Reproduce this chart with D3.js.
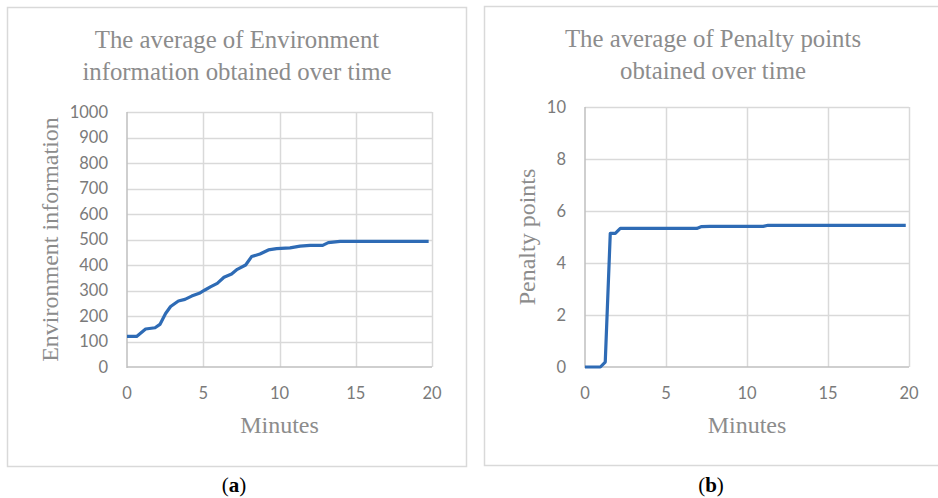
<!DOCTYPE html>
<html>
<head>
<meta charset="utf-8">
<script src="https://cdn.jsdelivr.net/npm/d3@7"></script>
<style>
  html, body { margin: 0; padding: 0; background: #fff; }
  svg { display: block; }
</style>
</head>
<body>
<div id="wrapper"></div>
<script>
// (a) environment information, vertices
const envMinutes = [0, 0.63, 1.22, 1.84, 2.16, 2.53, 2.86, 3.37, 3.8, 4.24, 4.74, 5.11, 5.5, 5.92,
  6.36, 6.86, 7.23, 7.78, 8.17, 8.72, 9.27, 9.81, 10.69, 11.35, 12.0, 12.83, 13.2, 13.97, 14.84, 19.78];
const envValues = [120, 120, 149, 154, 167, 210, 237, 259, 265, 278, 289, 302, 315, 328,
  352, 365, 383, 400, 433, 443, 459, 464, 467, 474, 477, 477, 488, 493, 493, 493];

// (b) penalty points
const penMinutes = [0, 0.95, 1.25, 1.56, 1.87, 2.18, 6.9, 7.2, 7.7, 11.0, 11.3, 19.8];
const penValues = [0, 0, 0.19, 5.14, 5.14, 5.33, 5.33, 5.4, 5.41, 5.41, 5.45, 5.45];

const xTicks = [0, 5, 10, 15, 20];
const envTicks = d3.range(0, 1001, 100);
const penTicks = [0, 2, 4, 6, 8, 10];

const width = 938;
const height = 498;
const lineColour = '#2e6bb5';
const serif = '"Liberation Serif", "Times New Roman", serif';
const sans = 'Lato, "Open Sans", sans-serif';

const svg = d3.select('#wrapper').append('svg')
  .attr('width', width)
  .attr('height', height);

const drawPanel = (p) => {
  const g = svg.append('g');

  // panel frame
  g.append('rect')
    .attr('x', p.box[0] + 0.5).attr('y', p.box[1] + 0.5)
    .attr('width', p.box[2]).attr('height', p.box[3])
    .attr('fill', 'none').attr('stroke', '#d9d9d9').attr('stroke-width', 1.5);

  const x = d3.scaleLinear().domain([0, 20]).range([p.plot.left, p.plot.right]);
  const y = d3.scaleLinear().domain(p.yDomain).range([p.plot.bottom, p.plot.top]);

  // grid
  g.selectAll('.hgrid').data(p.yTicks.slice(1)).join('line')
    .attr('x1', x(0)).attr('x2', x(20))
    .attr('y1', d => Math.round(y(d)) + 0.5).attr('y2', d => Math.round(y(d)) + 0.5)
    .attr('stroke', '#d9d9d9').attr('stroke-width', 1.5);
  g.selectAll('.vgrid').data(xTicks.slice(1)).join('line')
    .attr('y1', y(p.yDomain[0])).attr('y2', y(p.yDomain[1]))
    .attr('x1', d => Math.round(x(d)) + 0.5).attr('x2', d => Math.round(x(d)) + 0.5)
    .attr('stroke', '#d9d9d9').attr('stroke-width', 1.5);

  // axes lines
  g.append('line')
    .attr('x1', x(0)).attr('x2', x(0))
    .attr('y1', y(p.yDomain[0]) + 1).attr('y2', y(p.yDomain[1]))
    .attr('stroke', '#bfbfbf').attr('stroke-width', 1.5);
  g.append('line')
    .attr('x1', x(0)).attr('x2', x(20))
    .attr('y1', y(p.yDomain[0])).attr('y2', y(p.yDomain[0]))
    .attr('stroke', '#bfbfbf').attr('stroke-width', 1.5);

  // tick labels
  g.selectAll('.ylab').data(p.yTicks).join('text')
    .attr('x', x(0) - 19).attr('y', d => y(d))
    .attr('dy', '0.35em').attr('text-anchor', 'end')
    .attr('font-family', sans).attr('font-size', 16.5).attr('fill', '#7a7a7a')
    .text(d => d);
  g.selectAll('.xlab').data(xTicks).join('text')
    .attr('x', d => x(d)).attr('y', y(p.yDomain[0]) + 26)
    .attr('dy', '0.35em').attr('text-anchor', 'middle')
    .attr('font-family', sans).attr('font-size', 16.5).attr('fill', '#7a7a7a')
    .text(d => d);

  // series
  const line = d3.line().x(d => x(d[0])).y(d => y(d[1]));
  g.append('path')
    .datum(d3.zip(p.minutes, p.values))
    .attr('d', line)
    .attr('fill', 'none').attr('stroke', lineColour)
    .attr('stroke-width', 3.2).attr('stroke-linejoin', 'round');

  // titles
  g.selectAll('.title').data(p.title).join('text')
    .attr('x', p.titleX).attr('y', (d, i) => p.titleY + i * 32)
    .attr('dy', '0.35em').attr('text-anchor', 'middle')
    .attr('font-family', serif).attr('font-size', 24.8).attr('fill', '#8c8c8c')
    .text(d => d);

  g.append('text')
    .attr('x', (x(0) + x(20)) / 2).attr('y', y(p.yDomain[0]) + 58)
    .attr('dy', '0.35em').attr('text-anchor', 'middle')
    .attr('font-family', serif).attr('font-size', 24).attr('fill', '#8c8c8c')
    .text('Minutes');

  g.append('text')
    .attr('transform', `translate(${p.yTitleX}, ${(p.plot.top + p.plot.bottom) / 2}) rotate(-90)`)
    .attr('dy', '0.35em').attr('text-anchor', 'middle')
    .attr('font-family', serif).attr('font-size', 24).attr('fill', '#8c8c8c')
    .text(p.yTitle);

  // panel caption
  const cap = svg.append('text')
    .attr('x', p.capX).attr('y', 485)
    .attr('dy', '0.35em').attr('text-anchor', 'middle')
    .attr('font-family', serif).attr('font-size', 21).attr('fill', '#000');
  cap.append('tspan').text('(');
  cap.append('tspan').attr('font-weight', 'bold').text(p.cap);
  cap.append('tspan').text(')');
};

drawPanel({
  box: [7, 7, 459, 459],
  plot: { left: 127, right: 432, top: 112, bottom: 367 },
  yDomain: [0, 1000],
  yTicks: envTicks,
  minutes: envMinutes,
  values: envValues,
  title: ['The average of Environment', 'information obtained over time'],
  titleX: 237, titleY: 39,
  yTitle: 'Environment information',
  yTitleX: 50,
  capX: 234, cap: 'a'
});

drawPanel({
  box: [484, 6, 460, 459],
  plot: { left: 585, right: 909, top: 107, bottom: 367 },
  yDomain: [0, 10],
  yTicks: penTicks,
  minutes: penMinutes,
  values: penValues,
  title: ['The average of Penalty points', 'obtained over time'],
  titleX: 713, titleY: 38,
  yTitle: 'Penalty points',
  yTitleX: 527,
  capX: 711, cap: 'b'
});
</script>
</body>
</html>
